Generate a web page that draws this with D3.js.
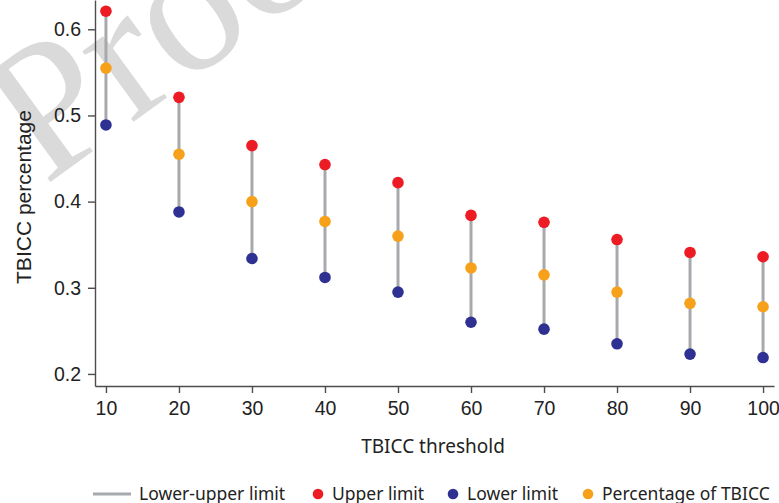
<!DOCTYPE html>
<html>
<head>
<meta charset="utf-8">
<script src="https://cdn.jsdelivr.net/npm/d3@7"></script>
<style>
  body { margin: 0; background: #fff; }
  svg { display: block; }
</style>
</head>
<body>
<svg width="779" height="503"></svg>
<script>
// thresholds and the three series
var thresholds = [10, 20, 30, 40, 50, 60, 70, 80, 90, 100];
var upperLimit = [0.621, 0.521, 0.465, 0.443, 0.422, 0.384, 0.376, 0.356, 0.341, 0.336];
var lowerLimit = [0.489, 0.388, 0.334, 0.312, 0.295, 0.260, 0.252, 0.235, 0.223, 0.219];
var percentage = [0.555, 0.455, 0.400, 0.377, 0.360, 0.323, 0.315, 0.295, 0.282, 0.278];
var yTicks = [0.2, 0.3, 0.4, 0.5, 0.6];

function main() {
    var svg = d3.select("svg");

    var red = "#ed1c24", blue = "#2e3192", orange = "#f7a11a", grey = "#a7a9ac", axisCol = "#4d4d4d";

    // watermark behind everything
    svg.append("text")
        .attr("transform", "translate(45,186) rotate(-36)")
        .text("Proof")
        .style("font-family", "'Liberation Serif', serif")
        .style("font-size", "190px")
        .style("fill", "#dadada");

    var x = d3.scaleLinear().domain([8.5, 101.5]).range([95, 774]);
    var y = d3.scaleLinear().domain([0.186, 0.634]).range([386, 0]);

    var data = thresholds.map(function (t, i) {
        return { t: t, up: upperLimit[i], low: lowerLimit[i], pct: percentage[i] };
    });

    // axes
    var xAxis = svg.append("g")
        .attr("transform", "translate(0,386)")
        .call(d3.axisBottom(x).tickValues(thresholds).tickSize(7).tickSizeOuter(0).tickPadding(8));
    var yAxis = svg.append("g")
        .attr("transform", "translate(95,0)")
        .call(d3.axisLeft(y).tickValues(yTicks).tickSize(7).tickSizeOuter(0).tickPadding(7)
            .tickFormat(d3.format(".1f")));

    [xAxis, yAxis].forEach(function (g) {
        g.selectAll("path, line").style("stroke", axisCol).style("stroke-width", 1.4);
        g.selectAll("text")
            .style("font-family", "'Liberation Sans', Arial, sans-serif")
            .style("font-size", "19.5px")
            .style("fill", "#222");
    });

    // axis titles
    svg.append("text")
        .attr("x", 433)
        .attr("y", 453)
        .attr("text-anchor", "middle")
        .text("TBICC threshold")
        .style("font-family", "'Noto Sans', sans-serif")
        .style("font-size", "19px")
        .style("fill", "#222");

    svg.append("text")
        .attr("transform", "translate(31,197) rotate(-90)")
        .attr("text-anchor", "middle")
        .text("TBICC percentage")
        .style("font-family", "'Liberation Sans', Arial, sans-serif")
        .style("font-size", "21px")
        .style("fill", "#222");

    // lower-upper ranges
    svg.selectAll(".range")
        .data(data)
        .enter().append("line")
        .attr("class", "range")
        .attr("x1", function (d) { return x(d.t); })
        .attr("x2", function (d) { return x(d.t); })
        .attr("y1", function (d) { return y(d.low); })
        .attr("y2", function (d) { return y(d.up); })
        .style("stroke", grey)
        .style("stroke-width", 3);

    var series = [
        { key: "up", color: red },
        { key: "low", color: blue },
        { key: "pct", color: orange }
    ];
    series.forEach(function (s) {
        svg.selectAll(".dot-" + s.key)
            .data(data)
            .enter().append("circle")
            .attr("class", "dot-" + s.key)
            .attr("cx", function (d) { return x(d.t); })
            .attr("cy", function (d) { return y(d[s.key]); })
            .attr("r", 5.8)
            .style("fill", s.color);
    });

    // legend
    var legend = svg.append("g").attr("transform", "translate(0,494)");
    legend.append("line")
        .attr("x1", 93).attr("x2", 131)
        .attr("y1", 0).attr("y2", 0)
        .style("stroke", grey).style("stroke-width", 3);

    var items = [
        { x: 139, label: "Lower-upper limit", color: null },
        { x: 318, label: "Upper limit", color: red },
        { x: 453, label: "Lower limit", color: blue },
        { x: 588, label: "Percentage of TBICC", color: orange }
    ];
    items.forEach(function (it) {
        var tx = it.x;
        if (it.color) {
            legend.append("circle").attr("cx", it.x).attr("cy", 0).attr("r", 5.3).style("fill", it.color);
            tx = it.x + 14;
        }
        legend.append("text")
            .attr("x", tx)
            .attr("y", 6)
            .text(it.label)
            .style("font-family", "'Noto Sans', sans-serif")
            .style("font-size", "17.5px")
            .style("fill", "#222");
    });
}
main();
</script>
</body>
</html>
